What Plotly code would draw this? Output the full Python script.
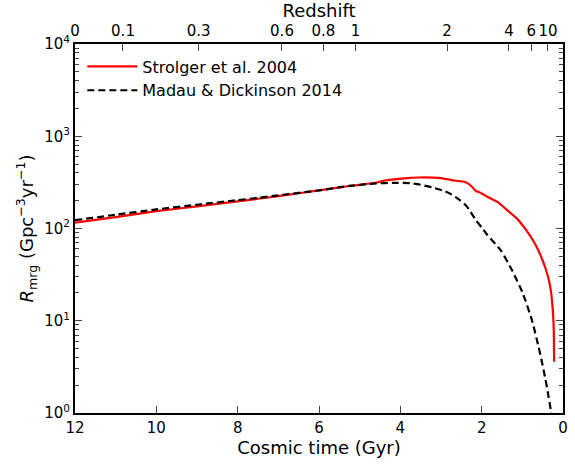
import plotly.graph_objects as go

# Cosmic time (Gyr) and merger rate values
t_strolger = [12, 11, 10, 9, 8, 7.5, 7, 6, 5.3, 4.58, 4.33, 3.9, 3.53, 3.2, 3.0, 2.75, 2.5,
              2.39, 2.3, 2.21, 2.14, 2.07, 1.8, 1.61, 1.35, 1.13, 0.95, 0.8, 0.68,
              0.58, 0.5, 0.44, 0.36, 0.3, 0.275, 0.25, 0.235, 0.225, 0.218]
r_strolger = [116, 133, 154, 174, 197, 210, 224, 259, 287, 315, 334, 350, 357, 356, 352, 335, 325,
              318, 300, 275, 255, 248, 214, 194, 155, 128, 102, 82, 67,
              54.5, 45, 38, 29, 21.5, 17.4, 12.9, 10, 7.1, 3.6]

t_madau = [12, 11, 10, 9, 8, 7.5, 7, 6, 5.3, 4.58, 4.2, 3.77, 3.5, 3.19, 2.9, 2.75, 2.55,
           2.39, 2.3, 2.14, 2.0, 1.86, 1.53, 1.25, 1.0, 0.92, 0.76, 0.6, 0.52, 0.43,
           0.37, 0.315, 0.3, 0.285]
r_madau = [123, 141, 161, 181, 203, 215, 229, 259, 288, 308, 312, 310, 298, 277, 253, 235, 205,
           179, 158, 123, 103, 85, 58, 35, 20.4, 16.4, 10, 5.2, 3.6, 2.3,
           1.64, 1.18, 1.08, 0.99]

# Top axis: redshift tick labels and their cosmic-time positions
z_labels = ["0", "0.1", "0.3", "0.6", "0.8", "1", "2", "4", "6", "10"]
z_time_pos = [12, 10.82, 8.96, 6.91, 5.89, 5.10, 2.85, 1.33, 0.78, 0.37]

x_ticks = [12, 10, 8, 6, 4, 2, 0]
y_ticks = [1, 10, 100, 1000, 10000]
y_ticktext = ["10<sup>0</sup>", "10<sup>1</sup>", "10<sup>2</sup>", "10<sup>3</sup>", "10<sup>4</sup>"]
y_minor = [m * 10 ** e for e in range(0, 4) for m in range(2, 10)]

FONT = "DejaVu Sans"

fig = go.Figure()
fig.add_trace(go.Scatter(x=t_strolger, y=r_strolger, mode="lines",
                         line=dict(color="#ff0000", width=2.2, shape="spline", smoothing=0.4),
                         name="Strolger et al. 2004"))
fig.add_trace(go.Scatter(x=t_madau, y=r_madau, mode="lines",
                         line=dict(color="black", width=2.2, dash="7px,4px",
                                   shape="spline", smoothing=0.6),
                         name="Madau & Dickinson 2014"))
fig.add_trace(go.Scatter(x=[12, 0], y=[1, 1], mode="lines", line=dict(width=0),
                         xaxis="x2", showlegend=False, hoverinfo="skip", opacity=0))

fig.update_layout(
    width=575, height=465,
    margin=dict(l=75, r=7, t=44, b=52),
    paper_bgcolor="white", plot_bgcolor="white",
    font=dict(family=FONT, size=15, color="black"),
    showlegend=True,
    legend=dict(x=0.015, y=0.985, xanchor="left", yanchor="top",
                bgcolor="rgba(0,0,0,0)", font=dict(size=16, family=FONT),
                itemwidth=50),
    xaxis=dict(range=[12, 0], tickvals=x_ticks, ticks="inside", ticklen=7, tickwidth=1.3,
               showline=True, linewidth=2, linecolor="black", mirror=True,
               showgrid=False, zeroline=False,
               title=dict(text="Cosmic time (Gyr)", font=dict(size=18), standoff=4),
               tickfont=dict(size=15)),
    xaxis2=dict(range=[12, 0], overlaying="x", side="top", anchor="y",
                tickvals=z_time_pos, ticktext=z_labels, ticks="inside", ticklen=7, tickwidth=1.3,
                showline=True, linewidth=2, linecolor="black",
                showgrid=False, zeroline=False,
                title=dict(text="Redshift", font=dict(size=18), standoff=2),
                tickfont=dict(size=15)),
    yaxis=dict(type="log", range=[0, 4], tickvals=y_ticks, ticktext=y_ticktext,
               ticks="inside", ticklen=7, tickwidth=1.3,
               showline=True, linewidth=2, linecolor="black", mirror="ticks",
               showgrid=False, zeroline=False,
               minor=dict(tickvals=y_minor, ticks="inside", ticklen=4, tickwidth=1, showgrid=False),
               title=dict(text="<i>R</i><sub>mrg</sub> (Gpc<sup>\u22123</sup>yr<sup>\u22121</sup>)",
                          font=dict(size=18), standoff=6),
               tickfont=dict(size=15)),
)

fig.write_html("out.html")
